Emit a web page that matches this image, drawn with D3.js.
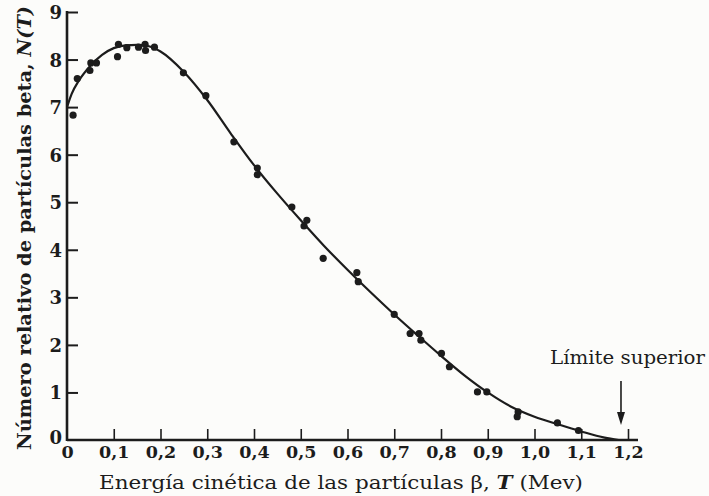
<!DOCTYPE html>
<html><head><meta charset="utf-8">
<script src="https://cdn.jsdelivr.net/npm/d3@7"></script>
<style>
html,body{margin:0;padding:0;background:#fcfcfa;}
svg{display:block;}
</style></head>
<body>
<svg id="chart" width="709" height="496"></svg>
<script>
// ---- data ----
const xTicks = [0, 0.1, 0.2, 0.3, 0.4, 0.5, 0.6, 0.7, 0.8, 0.9, 1.0, 1.1, 1.2];
const xTickLabels = ["0", "0,1", "0,2", "0,3", "0,4", "0,5", "0,6", "0,7", "0,8", "0,9", "1,0", "1,1", "1,2"];
const yTicks = [0, 1, 2, 3, 4, 5, 6, 7, 8, 9];
const yTickLabels = ["0", "1", "2", "3", "4", "5", "6", "7", "8", "9"];

// measured points: kinetic energy T (MeV) and relative number N(T)
const pointT = [0.013, 0.022, 0.049, 0.051, 0.063, 0.108, 0.110, 0.128, 0.153, 0.167, 0.168, 0.187,
  0.249, 0.297, 0.357, 0.407, 0.407, 0.481, 0.513, 0.507, 0.548, 0.620, 0.623, 0.700,
  0.734, 0.753, 0.757, 0.801, 0.818, 0.878, 0.898, 0.965, 0.963, 1.049, 1.094];
const pointN = [6.83, 7.60, 7.77, 7.93, 7.93, 8.06, 8.32, 8.25, 8.26, 8.32, 8.19, 8.26,
  7.72, 7.24, 6.27, 5.72, 5.58, 4.90, 4.62, 4.50, 3.82, 3.52, 3.33, 2.64,
  2.24, 2.24, 2.10, 1.82, 1.54, 1.01, 1.01, 0.59, 0.49, 0.36, 0.20];

// fitted smooth curve
const curveT = [0, 0.01, 0.025, 0.05, 0.075, 0.1, 0.125, 0.15, 0.175, 0.2, 0.25, 0.3, 0.35, 0.4, 0.45, 0.5,
  0.55, 0.6, 0.65, 0.7, 0.75, 0.8, 0.85, 0.9, 0.95, 1.0, 1.05, 1.1, 1.15, 1.18];
const curveN = [7.0, 7.28, 7.55, 7.87, 8.1, 8.24, 8.3, 8.31, 8.28, 8.17, 7.74, 7.15, 6.45, 5.78, 5.18, 4.62,
  4.08, 3.58, 3.1, 2.64, 2.2, 1.77, 1.36, 1.0, 0.7, 0.49, 0.33, 0.18, 0.05, 0.0];

const xTitle = "Energía cinética de las partículas β, ";
const xTitleItalic = "T";
const xTitleEnd = " (Mev)";
const yTitle = "Número relativo de partículas beta, ";
const yTitleItalic = "N(T)";
const noteLabel = "Límite superior";
const noteT = 1.185;

// ---- drawing ----
const ink = "#1c1c1c";
const svg = d3.select("#chart");
const x = d3.scaleLinear().domain([0, 1.2]).range([67, 628]);
const y = d3.scaleLinear().domain([0, 9]).range([440, 12]);
const serif = "'DejaVu Serif', 'Liberation Serif', serif";

// axis lines
svg.append("line").attr("x1", x(0)).attr("x2", x(1.2) + 10).attr("y1", y(0)).attr("y2", y(0))
  .attr("stroke", ink).attr("stroke-width", 2.6);
svg.append("line").attr("x1", x(0)).attr("x2", x(0)).attr("y1", y(0) + 1).attr("y2", y(9) - 1)
  .attr("stroke", ink).attr("stroke-width", 2.6);

// x axis ticks (inward)
const xAxis = d3.axisBottom(x).tickValues(xTicks).tickSize(-11).tickSizeOuter(0)
  .tickFormat((d, i) => xTickLabels[i]).tickPadding(7);
const gx = svg.append("g").attr("transform", `translate(0,${y(0)})`).call(xAxis);
gx.select(".domain").remove();
gx.selectAll(".tick line").attr("stroke", ink).attr("stroke-width", 1.6)
  .filter(d => d === 0).remove();
gx.selectAll(".tick text").attr("fill", ink).attr("font-family", serif)
  .attr("font-size", 17.5).attr("font-weight", "bold").attr("dy", "0.6em");

// y axis ticks (inward)
const yAxis = d3.axisLeft(y).tickValues(yTicks).tickSize(-11).tickSizeOuter(0)
  .tickFormat((d, i) => yTickLabels[i]).tickPadding(5);
const gy = svg.append("g").attr("transform", `translate(${x(0)},0)`).call(yAxis);
gy.select(".domain").remove();
gy.selectAll(".tick line").attr("stroke", ink).attr("stroke-width", 2)
  .filter(d => d === 0).remove();
gy.selectAll(".tick text").attr("fill", ink).attr("font-family", serif)
  .attr("font-size", 18).attr("font-weight", "bold").attr("dy", "0.36em");
gy.select(".tick:first-of-type text").attr("dy", "0.2em");

// fitted curve
const curveData = curveT.map((t, i) => [t, curveN[i]]);
svg.append("path").datum(curveData)
  .attr("d", d3.line().x(d => x(d[0])).y(d => y(d[1])).curve(d3.curveMonotoneX))
  .attr("fill", "none").attr("stroke", ink).attr("stroke-width", 2.2);

// data points
const pts = pointT.map((t, i) => ({t, n: pointN[i]}));
svg.append("g").selectAll("circle").data(pts).join("circle")
  .attr("cx", d => x(d.t)).attr("cy", d => y(d.n)).attr("r", 3.6).attr("fill", ink);

// axis titles
const xt = svg.append("text").attr("x", 99).attr("y", 489)
  .attr("font-family", serif).attr("font-size", 18).attr("fill", ink)
  .attr("textLength", 484).attr("lengthAdjust", "spacingAndGlyphs");
xt.append("tspan").text(xTitle);
xt.append("tspan").attr("font-style", "italic").attr("font-weight", "bold").text(xTitleItalic);
xt.append("tspan").text(xTitleEnd);

const yt = svg.append("text").attr("transform", "translate(31,450) rotate(-90)")
  .attr("font-family", serif).attr("font-size", 18).attr("font-weight", "bold").attr("fill", ink)
  .attr("textLength", 444).attr("lengthAdjust", "spacingAndGlyphs");
yt.append("tspan").text(yTitle);
yt.append("tspan").attr("font-style", "italic").text(yTitleItalic);

// upper limit annotation
svg.append("text").attr("x", 550).attr("y", 364).attr("font-family", serif)
  .attr("font-size", 19).attr("fill", ink)
  .attr("textLength", 155).attr("lengthAdjust", "spacingAndGlyphs").text(noteLabel);
const ax = x(noteT);
svg.append("line").attr("x1", ax).attr("x2", ax).attr("y1", 381).attr("y2", 414)
  .attr("stroke", ink).attr("stroke-width", 1.6);
svg.append("path")
  .attr("d", `M${ax - 4},${412} L${ax + 4},${412} L${ax},${425} Z`).attr("fill", ink);
</script>
</body></html>
